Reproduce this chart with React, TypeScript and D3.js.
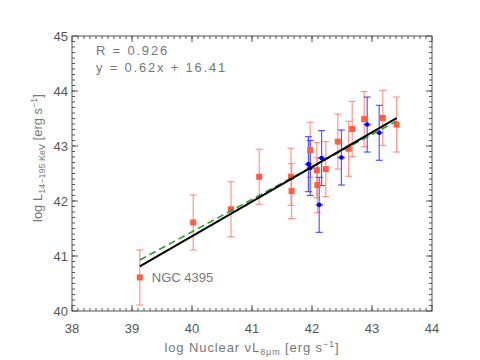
import * as d3 from "d3";
import React from "react";

// red sample (square markers)
const redX = [39.13, 40.02, 40.65, 41.12, 41.65, 41.66, 41.97, 42.08, 42.09, 42.23, 42.43, 42.61, 42.67, 42.87, 43.18, 43.41];
const redY = [40.61, 41.61, 41.85, 42.44, 42.44, 42.18, 42.93, 42.56, 42.29, 42.58, 43.08, 42.95, 43.31, 43.49, 43.51, 43.39];
const redErr = [0.5, 0.5, 0.5, 0.5, 0.52, 0.5, 0.5, 0.5, 0.5, 0.5, 0.5, 0.5, 0.5, 0.5, 0.5, 0.5];

// blue sample (dots with small x errors)
const blueX = [41.94, 41.97, 42.12, 42.16, 42.49, 42.92, 43.12];
const blueY = [42.67, 42.6, 41.93, 42.78, 42.79, 43.39, 43.24];
const blueErrY = [0.5, 0.5, 0.5, 0.5, 0.5, 0.5, 0.5];
const blueErrX = [0.06, 0.06, 0.06, 0.06, 0.06, 0.06, 0.06];

// fits
const fitRange = [39.13, 43.41];
const blackFit = { slope: 0.63, intercept: 16.16 };
const greenFit = { slope: 0.59, intercept: 17.84 };

const xTicks = [38, 39, 40, 41, 42, 43, 44];
const yTicks = [40, 41, 42, 43, 44, 45];
const statLines = ["R = 0.926", "y = 0.62x + 16.41"];
const annotation = { x: 39.13, y: 40.61, text: "NGC 4395" };

const font = "'Liberation Sans', Arial, sans-serif";
const grey = "#555";

export default function App() {
  const x = d3.scaleLinear().domain([38, 44]).range([72, 432]);
  const y = d3.scaleLinear().domain([40, 45]).range([311, 36]);
  const [x0, x1] = x.range();
  const [y0, y1] = y.range();

  const xMinor = d3.range(381, 440).map((v) => v / 10);
  const yMinor = d3.range(401, 450).map((v) => v / 10);

  const fitLine = (f: { slope: number; intercept: number }) =>
    d3.line<number>().x((v) => x(v)).y((v) => y(f.slope * v + f.intercept))(fitRange) as string;

  const cap = 3.5;

  return (
    <svg width={480} height={360} style={{ position: "absolute", left: 0, top: 0, background: "#fff" }}>
      {/* red error bars */}
      <g stroke="#ff7f6e" strokeOpacity={0.8} strokeWidth={1.2}>
        {redX.map((v, i) => {
          const cx = x(v);
          const t = y(redY[i] + redErr[i]);
          const b = y(redY[i] - redErr[i]);
          return (
            <g key={i}>
              <line x1={cx} x2={cx} y1={t} y2={b} />
              <line x1={cx - cap} x2={cx + cap} y1={t} y2={t} />
              <line x1={cx - cap} x2={cx + cap} y1={b} y2={b} />
            </g>
          );
        })}
      </g>
      {/* blue error bars */}
      <g stroke="#3030ff" strokeOpacity={0.8} strokeWidth={1.2}>
        {blueX.map((v, i) => {
          const cx = x(v);
          const cy = y(blueY[i]);
          const t = y(blueY[i] + blueErrY[i]);
          const b = y(blueY[i] - blueErrY[i]);
          return (
            <g key={i}>
              <line x1={cx} x2={cx} y1={t} y2={b} />
              <line x1={cx - cap} x2={cx + cap} y1={t} y2={t} />
              <line x1={cx - cap} x2={cx + cap} y1={b} y2={b} />
              <line x1={x(v - blueErrX[i])} x2={x(v + blueErrX[i])} y1={cy} y2={cy} strokeWidth={1.5} />
            </g>
          );
        })}
      </g>
      {/* red squares */}
      {redX.map((v, i) => (
        <rect key={i} x={x(v) - 3} y={y(redY[i]) - 3} width={6} height={6} fill="#ff5c40" />
      ))}
      {/* blue dots */}
      {blueX.map((v, i) => (
        <circle key={i} cx={x(v)} cy={y(blueY[i])} r={2.3} fill="#0000ff" />
      ))}
      {/* fits */}
      <path d={fitLine(greenFit)} fill="none" stroke="#2e9a2e" strokeWidth={1.6} strokeDasharray="7,4" />
      <path d={fitLine(blackFit)} fill="none" stroke="#000" strokeWidth={2} />

      {/* annotation */}
      <text x={x(annotation.x) + 12} y={y(annotation.y) + 5} fontFamily={font} fontSize={13} fill="#777">
        {annotation.text}
      </text>
      {statLines.map((s, i) => (
        <text key={i} x={96} y={55 + i * 16.5} fontFamily={font} fontSize={13} fill="#777" letterSpacing={1.8} xmlSpace="preserve">
          {s}
        </text>
      ))}

      {/* frame and ticks */}
      <g stroke={grey} strokeWidth={1} fill="none">
        <rect x={x0} y={y1} width={x1 - x0} height={y0 - y1} />
        {xTicks.map((t) => (
          <g key={t}>
            <line x1={x(t)} x2={x(t)} y1={y0} y2={y0 - 6} />
            <line x1={x(t)} x2={x(t)} y1={y1} y2={y1 + 6} />
          </g>
        ))}
        {xMinor.map((t) => (
          <g key={t}>
            <line x1={x(t)} x2={x(t)} y1={y0} y2={y0 - 3} />
            <line x1={x(t)} x2={x(t)} y1={y1} y2={y1 + 3} />
          </g>
        ))}
        {yTicks.map((t) => (
          <g key={t}>
            <line x1={x0} x2={x0 + 6} y1={y(t)} y2={y(t)} />
            <line x1={x1} x2={x1 - 6} y1={y(t)} y2={y(t)} />
          </g>
        ))}
        {yMinor.map((t) => (
          <g key={t}>
            <line x1={x0} x2={x0 + 3} y1={y(t)} y2={y(t)} />
            <line x1={x1} x2={x1 - 3} y1={y(t)} y2={y(t)} />
          </g>
        ))}
      </g>

      {/* tick labels */}
      <g fontFamily={font} fontSize={13} fill={grey}>
        {xTicks.map((t) => (
          <text key={t} x={x(t)} y={333} textAnchor="middle">
            {t}
          </text>
        ))}
        {yTicks.map((t) => (
          <text key={t} x={68} y={y(t) + 4.5} textAnchor="end">
            {t}
          </text>
        ))}
      </g>

      {/* axis titles */}
      <text x={252} y={352} textAnchor="middle" fontFamily={font} fontSize={13} fill="#777" letterSpacing={0.9}>
        log Nuclear νL<tspan fontSize={9} dy={3}>8μm</tspan>
        <tspan dy={-3}> [erg s</tspan>
        <tspan fontSize={9} dy={-5}>−1</tspan>
        <tspan dy={5}>]</tspan>
      </text>
      <text transform="translate(42,158) rotate(-90)" textAnchor="middle" fontFamily={font} fontSize={13} fill="#777">
        log L<tspan fontSize={9} dy={3}>14−195 KeV</tspan>
        <tspan dy={-3}> [erg s</tspan>
        <tspan fontSize={9} dy={-5}>−1</tspan>
        <tspan dy={5}>]</tspan>
      </text>
    </svg>
  );
}
